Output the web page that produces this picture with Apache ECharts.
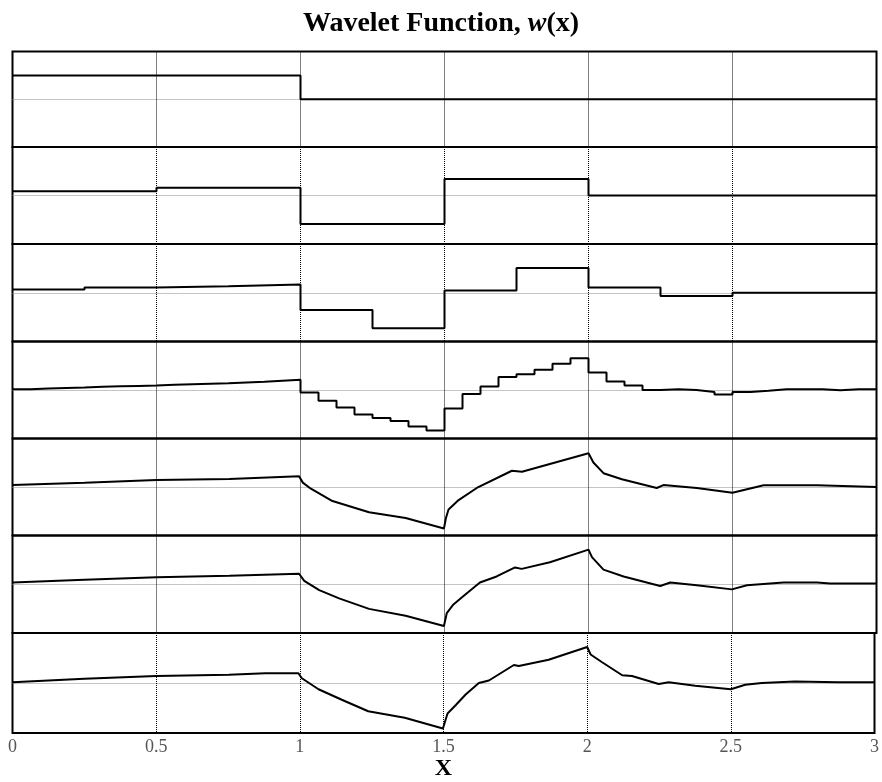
<!DOCTYPE html>
<html><head><meta charset="utf-8">
<script src="https://cdn.jsdelivr.net/npm/echarts@6/dist/echarts.min.js"></script>
<style>html,body{margin:0;padding:0;background:#fff}#c{width:882px;height:782px}</style>
</head><body><div id="c"></div>
<script>
const tickLabels = ['0','0.5','1','1.5','2','2.5','3'];
// step panels: values on equal intervals over [0,3]
const p1 = [1, 0, 0];
const p2 = [0.18, 0.32, -1.18, 0.68, 0, 0];
const p3 = [0.13, 0.22, 0.27, 0.34, -0.71, -1.46, 0.09, 1.02, 0.22, -0.13, 0, 0];
const p4 = [0.03, 0.06, 0.08, 0.10, 0.13, 0.15, 0.17, 0.19, 0.22, 0.24, 0.26, 0.28, 0.31, 0.34, 0.38, 0.42,
            -0.10, -0.44, -0.72, -1.01, -1.15, -1.28, -1.50, -1.67,
            -0.76, -0.17, 0.14, 0.54, 0.65, 0.83, 1.08, 1.31,
            0.72, 0.35, 0.19, 0.00, 0.03, 0.00, -0.08, -0.19, -0.08, -0.03, 0.03, 0.03, 0.03, -0.01, 0.03, 0.03];
// polyline panels
const p5x = [0, 0.25, 0.5, 0.753, 0.995, 1.008, 1.036, 1.111, 1.238, 1.365, 1.498, 1.5, 1.505, 1.514, 1.549, 1.612, 1.734, 1.769, 2.0, 2.017, 2.052, 2.116, 2.237, 2.26, 2.376, 2.5, 2.608, 2.793, 3.0];
const p5y = [0.08, 0.18, 0.29, 0.33, 0.44, 0.18, -0.07, -0.58, -1.04, -1.28, -1.71, -1.71, -1.28, -0.93, -0.54, -0.04, 0.67, 0.63, 1.39, 1.01, 0.57, 0.32, -0.04, 0.08, -0.04, -0.24, 0.07, 0.07, 0.0];
const p6x = [0, 0.25, 0.5, 0.753, 0.995, 1.013, 1.065, 1.134, 1.238, 1.365, 1.498, 1.5, 1.508, 1.531, 1.565, 1.623, 1.681, 1.745, 1.768, 1.866, 2.0, 2.012, 2.052, 2.122, 2.249, 2.284, 2.376, 2.498, 2.55, 2.677, 2.793, 2.839, 3.0];
const p6y = [0.07, 0.18, 0.29, 0.35, 0.43, 0.14, -0.24, -0.58, -1.01, -1.29, -1.71, -1.71, -1.18, -0.83, -0.49, 0.07, 0.32, 0.69, 0.63, 0.90, 1.42, 1.11, 0.60, 0.32, -0.07, 0.07, -0.04, -0.21, -0.04, 0.07, 0.07, 0.03, 0.03];
const p7x = [0, 0.25, 0.5, 0.753, 0.88, 0.995, 1.007, 1.065, 1.146, 1.238, 1.365, 1.498, 1.5, 1.514, 1.543, 1.577, 1.623, 1.658, 1.745, 1.762, 1.866, 2.0, 2.012, 2.052, 2.122, 2.156, 2.249, 2.284, 2.376, 2.5, 2.55, 2.608, 2.723, 2.874, 3.0];
const p7y = [0.03, 0.17, 0.28, 0.33, 0.39, 0.39, 0.19, -0.25, -0.67, -1.13, -1.39, -1.82, -1.82, -1.22, -0.88, -0.46, 0.0, 0.10, 0.72, 0.68, 0.93, 1.44, 1.14, 0.83, 0.31, 0.28, -0.04, 0.03, -0.11, -0.25, -0.07, 0.0, 0.06, 0.03, 0.03];

function stepData(vals) {
  const w = 3 / vals.length;
  const d = vals.map((v, i) => [i * w, v]);
  d.push([3, vals[vals.length - 1]]);
  return d;
}
function lineData(xs, ys) { return xs.map((x, i) => [x, ys[i]]); }

const panels = [
  {data: stepData(p1), step: 'end'},
  {data: stepData(p2), step: 'end'},
  {data: stepData(p3), step: 'end'},
  {data: stepData(p4), step: 'end'},
  {data: lineData(p5x, p5y), step: false},
  {data: lineData(p6x, p6y), step: false},
  {data: lineData(p7x, p7y), step: false}
];
const tops = [51.5, 147, 244, 341.5, 438.5, 535.5, 633];
const bottom = 734;

const grid = [], xAxis = [], yAxis = [], series = [];
panels.forEach((p, i) => {
  const top = tops[i];
  const h = (i < 6 ? tops[i + 1] : bottom) - top;
  const last = i === 6;
  grid.push({left: 12.5, width: 864, top: top, height: h, show: true, borderColor: '#000', borderWidth: 2, backgroundColor: 'transparent', containLabel: false});
  xAxis.push({
    type: 'value', gridIndex: i, min: 0, max: 3, interval: 0.5,
    axisLine: {show: false}, axisTick: {show: false},
    axisLabel: {show: last, margin: 5, color: '#555', fontFamily: 'Liberation Serif', fontSize: 18,
      formatter: v => tickLabels[Math.round(v / 0.5)]},
    splitLine: {show: true, showMinLine: false, showMaxLine: false, lineStyle: {color: '#000', type: 'dotted', width: 1}},
    name: last ? 'X' : '', nameLocation: 'middle', nameGap: 24,
    nameTextStyle: {fontFamily: 'Liberation Serif', fontWeight: 'bold', fontSize: 24, color: '#000'}
  });
  yAxis.push({
    type: 'value', gridIndex: i, min: -2, max: 2, interval: 2,
    axisLine: {show: false}, axisTick: {show: false}, axisLabel: {show: false},
    splitLine: {show: true, showMinLine: false, showMaxLine: false, lineStyle: {color: '#888', type: 'dotted', width: 1}}
  });
  series.push({
    type: 'line', xAxisIndex: i, yAxisIndex: i, data: p.data, step: p.step,
    showSymbol: false, symbol: 'none', smooth: false,
    lineStyle: {color: '#000', width: 2}, z: 5, silent: true
  });
});

const chart = echarts.init(document.getElementById('c'), null, {renderer: 'canvas'});
chart.setOption({
  animation: false,
  backgroundColor: '#fff',
  title: {
    text: '{b|Wavelet Function, }{i|w}{b|(x)}',
    left: 'center', top: 5,
    textStyle: {
      rich: {
        b: {fontFamily: 'Liberation Serif', fontWeight: 'bold', fontSize: 28, color: '#000'},
        i: {fontFamily: 'Liberation Serif', fontWeight: 'bold', fontStyle: 'italic', fontSize: 28, color: '#000'}
      }
    }
  },
  grid: grid, xAxis: xAxis, yAxis: yAxis, series: series
});
</script>
</body></html>
